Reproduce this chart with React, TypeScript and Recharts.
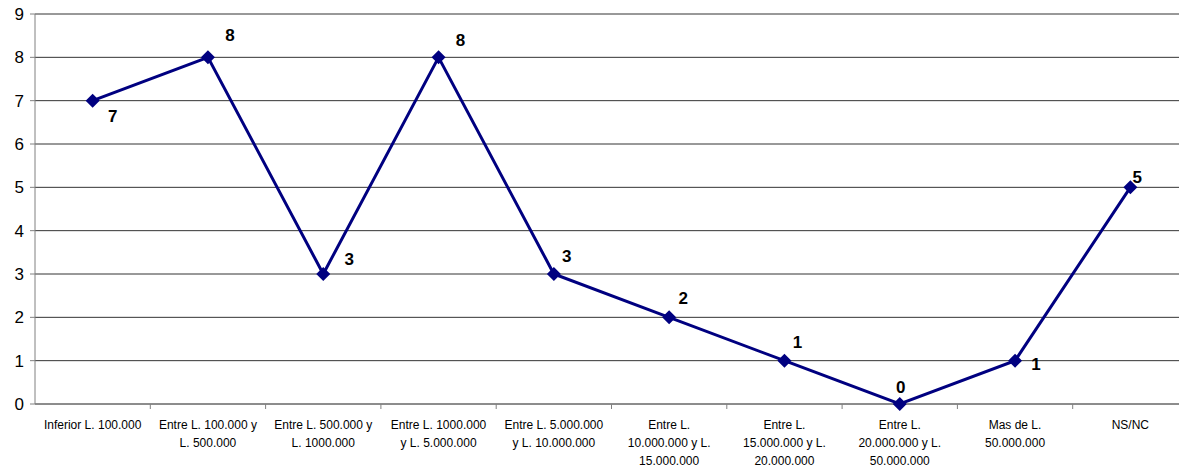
import { CartesianGrid, LabelList, Line, LineChart, XAxis, YAxis } from "recharts";

const categories = [
  "Inferior L. 100.000",
  "Entre L. 100.000 y\nL. 500.000",
  "Entre L. 500.000 y\nL. 1000.000",
  "Entre L. 1000.000\ny L. 5.000.000",
  "Entre L. 5.000.000\ny L. 10.000.000",
  "Entre L.\n10.000.000 y L.\n15.000.000",
  "Entre L.\n15.000.000 y L.\n20.000.000",
  "Entre L.\n20.000.000 y L.\n50.000.000",
  "Mas de L.\n50.000.000",
  "NS/NC",
];
const values = [7, 8, 3, 8, 3, 2, 1, 0, 1, 5];
const yTicks = [0, 1, 2, 3, 4, 5, 6, 7, 8, 9];

const data = categories.map((name, i) => ({ name, value: values[i] }));

const WIDTH = 1200;
const HEIGHT = 467;
const AXIS_W = 35;
const PLOT_W = 1153;
const BAND = PLOT_W / categories.length;
const FONT = "'Liberation Sans', Arial, sans-serif";
const NAVY = "#000080";

// where Excel put each data label, relative to its point
const labelShift = [
  [20, 16], [22, -22], [26, -15], [22, -17], [13, -18],
  [14, -19], [13, -18], [1, -17], [21, 4], [7, -10],
];

function CategoryTick(props: any) {
  const { x, y, payload } = props;
  const lines = String(payload.value).split("\n");
  return (
    <g>
      <line x1={x + BAND / 2} x2={x + BAND / 2} y1={y - 8} y2={y - 3} stroke="#808080" />
      <text x={x} y={y + 17} textAnchor="middle" fontSize={12} fontFamily={FONT} fill="#000">
        {lines.map((line, i) => (
          <tspan key={i} x={x} dy={i === 0 ? 0 : 18}>
            {line}
          </tspan>
        ))}
      </text>
    </g>
  );
}

function Diamond(props: any) {
  const { cx, cy } = props;
  if (cx == null || cy == null) return null;
  const r = 7;
  return <polygon points={`${cx},${cy - r} ${cx + r},${cy} ${cx},${cy + r} ${cx - r},${cy}`} fill={NAVY} />;
}

function PointLabel(props: any) {
  const { x, y, value, index } = props;
  const [dx, dy] = labelShift[index] ?? [10, -15];
  return (
    <text
      x={x + dx}
      y={y + dy}
      textAnchor="middle"
      dominantBaseline="central"
      fontSize={17}
      fontWeight="bold"
      fontFamily={FONT}
      fill="#000"
    >
      {value}
    </text>
  );
}

export default function App() {
  return (
    <div style={{ position: "fixed", top: 0, left: 0, width: 1179, height: 467, overflow: "hidden", background: "#fff" }}>
      <LineChart width={WIDTH} height={HEIGHT} data={data} margin={{ top: 14, right: WIDTH - AXIS_W - PLOT_W, bottom: 0, left: 0 }}>
        <CartesianGrid horizontal vertical={false} stroke="#333" />
        <XAxis
          dataKey="name"
          scale="band"
          interval={0}
          height={63}
          stroke="#808080"
          tickLine={false}
          tick={<CategoryTick />}
        />
        <YAxis
          width={AXIS_W}
          domain={[0, 9]}
          ticks={yTicks}
          interval={0}
          stroke="#808080"
          tickSize={5}
          tickMargin={6}
          tick={{ fontSize: 17, fontFamily: FONT, fill: "#000" }}
        />
        <Line
          dataKey="value"
          stroke={NAVY}
          strokeWidth={3}
          dot={<Diamond />}
          activeDot={false}
          isAnimationActive={false}
        >
          <LabelList dataKey="value" content={<PointLabel />} />
        </Line>
      </LineChart>
    </div>
  );
}
